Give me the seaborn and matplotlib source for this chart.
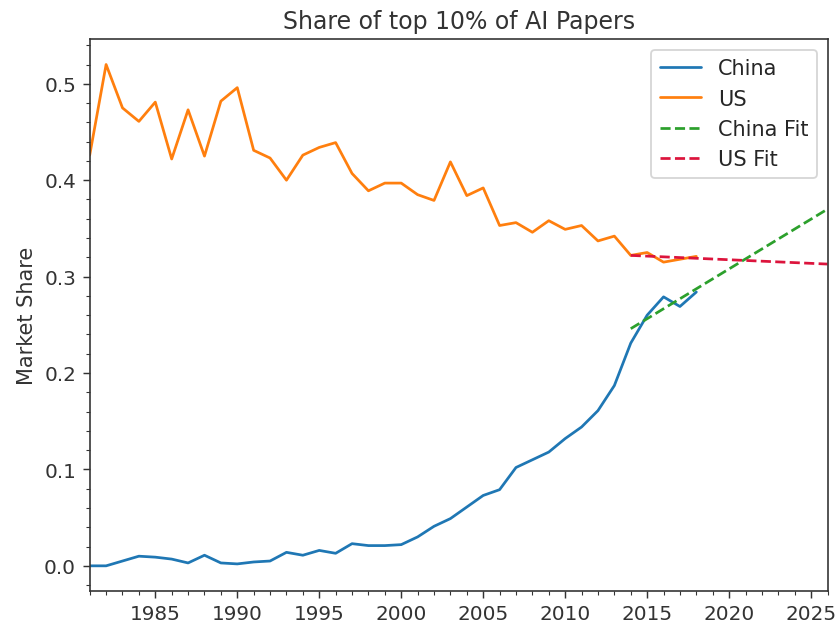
import matplotlib
matplotlib.use("Agg")
import matplotlib.pyplot as plt
from matplotlib.ticker import MultipleLocator
import pandas as pd
import seaborn as sns

years = list(range(1981, 2019))

china = [0.000, 0.000, 0.005, 0.010, 0.009, 0.007, 0.003, 0.011, 0.003, 0.002,
         0.004, 0.005, 0.014, 0.011, 0.016, 0.013, 0.023, 0.021, 0.021, 0.022,
         0.030, 0.041, 0.049, 0.061, 0.073, 0.079, 0.102, 0.110, 0.118, 0.132,
         0.144, 0.161, 0.187, 0.231, 0.260, 0.279, 0.269, 0.284]

us = [0.426, 0.520, 0.475, 0.461, 0.481, 0.422, 0.473, 0.425, 0.482, 0.496,
      0.431, 0.423, 0.400, 0.426, 0.434, 0.439, 0.407, 0.389, 0.397, 0.397,
      0.385, 0.379, 0.419, 0.384, 0.392, 0.353, 0.356, 0.346, 0.358, 0.349,
      0.353, 0.337, 0.342, 0.322, 0.325, 0.315, 0.318, 0.321]

fit_years = [2014, 2026]
china_fit = [0.246, 0.370]
us_fit = [0.322, 0.313]

df = pd.DataFrame({"year": years, "China": china, "US": us})
fit = pd.DataFrame({"year": fit_years, "China Fit": china_fit, "US Fit": us_fit})

sns.set_style("ticks")
plt.rcParams["font.family"] = ["DejaVu Sans"]

fig, ax = plt.subplots(figsize=(6.4, 4.8), dpi=131)
fig.subplots_adjust(left=0.107, right=0.987, top=0.936, bottom=0.059)

sns.lineplot(data=df, x="year", y="China", ax=ax, color="#1f77b4", label="China", lw=1.5)
sns.lineplot(data=df, x="year", y="US", ax=ax, color="#ff7f0e", label="US", lw=1.5)
sns.lineplot(data=fit, x="year", y="China Fit", ax=ax, color="#2ca02c",
             label="China Fit", lw=1.5, linestyle="--")
sns.lineplot(data=fit, x="year", y="US Fit", ax=ax, color="crimson",
             label="US Fit", lw=1.5, linestyle="--")

ax.set_xlim(1981, 2026)
ax.set_ylim(-0.026, 0.546)
ax.xaxis.set_major_locator(MultipleLocator(5))
ax.xaxis.set_minor_locator(MultipleLocator(1))
ax.yaxis.set_major_locator(MultipleLocator(0.1))
ax.yaxis.set_minor_locator(MultipleLocator(0.02))
ax.tick_params(which="both", direction="out", colors="#333333", labelsize=11)
ax.tick_params(which="major", length=4)
ax.tick_params(which="minor", length=2)
for s in ax.spines.values():
    s.set_color("#333333")
    s.set_linewidth(0.9)

ax.set_xlabel("")
ax.set_ylabel("Market Share", fontsize=11.5, color="#333333")
ax.set_title("Share of top 10% of AI Papers", fontsize=13, color="#333333")
ax.legend(loc="upper right", fontsize=11.5, frameon=True, fancybox=True,
          framealpha=0.8, edgecolor="#cccccc", handlelength=2.0)

fig.savefig("out.png", dpi=131)
